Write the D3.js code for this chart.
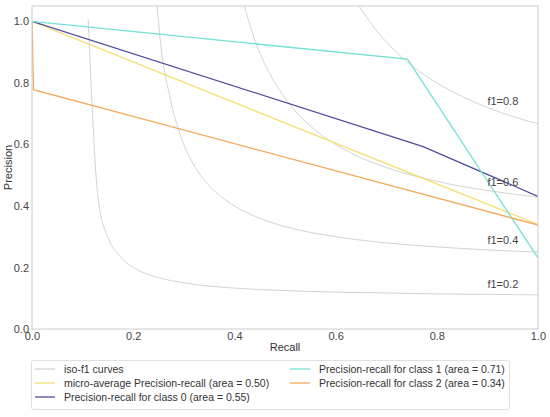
<!DOCTYPE html>
<html>
<head>
<meta charset="utf-8">
<script src="https://cdn.jsdelivr.net/npm/d3@7"></script>
<style>
  body { margin: 0; background: #fff; }
  svg { font-family: "Liberation Sans", Arial, sans-serif; }
  .tick text { fill: #444; font-size: 11px; }
</style>
</head>
<body>
<svg id="viz"></svg>
<script>
var width = 550;
var height = 417;

// tick labels
var xTicks = [0, 0.2, 0.4, 0.6, 0.8, 1.0];
var yTicks = [0, 0.2, 0.4, 0.6, 0.8, 1.0];

// iso-f1 curves, [recall, precision]
var isoValues = [0.2, 0.4, 0.6, 0.8];
var iso02 = [[0.111, 1.007], [0.131, 0.420], [0.151, 0.294], [0.172, 0.240], [0.192, 0.209],
    [0.212, 0.189], [0.25, 0.167], [0.30, 0.150], [0.40, 0.133], [0.50, 0.125], [0.60, 0.120],
    [0.70, 0.117], [0.80, 0.114], [0.90, 0.1125], [1.0, 0.111]];
var iso04 = [[0.232, 1.441], [0.252, 0.963], [0.273, 0.751], [0.293, 0.631], [0.313, 0.554],
    [0.333, 0.500], [0.353, 0.461], [0.374, 0.430], [0.414, 0.387], [0.45, 0.360], [0.50, 0.333],
    [0.55, 0.314], [0.60, 0.300], [0.70, 0.280], [0.80, 0.267], [0.90, 0.257], [1.0, 0.250]];
var iso06 = [[0.394, 1.259], [0.414, 1.089], [0.434, 0.970], [0.454, 0.883], [0.475, 0.815],
    [0.495, 0.762], [0.515, 0.718], [0.556, 0.652], [0.60, 0.600], [0.65, 0.557], [0.70, 0.525],
    [0.80, 0.480], [0.90, 0.450], [1.0, 0.429]];
var iso08 = [[0.616, 1.140], [0.636, 1.077], [0.657, 1.024], [0.677, 0.978], [0.697, 0.939],
    [0.717, 0.905], [0.75, 0.857], [0.80, 0.800], [0.85, 0.756], [0.90, 0.720], [0.95, 0.691],
    [1.0, 0.667]];
var isoCurves = [iso02, iso04, iso06, iso08];
var isoLabelY = [0.132, 0.276, 0.465, 0.728];

// precision-recall curves
var microPR = [[0, 1.0], [1.0, 0.340]];
var class0PR = [[0, 1.0], [0.773, 0.593], [1.0, 0.431]];
var class1PR = [[0, 1.0], [0.742, 0.877], [1.0, 0.231]];
var class2PR = [[0, 1.0], [0.003, 0.778], [1.0, 0.338]];

var seriesNames = ["iso-f1 curves",
    "micro-average Precision-recall (area = 0.50)",
    "Precision-recall for class 0 (area = 0.55)",
    "Precision-recall for class 1 (area = 0.71)",
    "Precision-recall for class 2 (area = 0.34)"];
var seriesColors = ["#d3d3d3", "#f6df72", "#4f4c9e", "#74e0d6", "#f6a95e"];

var svg = d3.select("#viz")
    .attr("width", width)
    .attr("height", height);

var x = d3.scaleLinear().domain([0, 1]).range([32, 538]);
var y = d3.scaleLinear().domain([0, 1.05]).range([329, 6]);

svg.append("clipPath").attr("id", "plotclip")
    .append("rect")
    .attr("x", x(0)).attr("y", y(1.05))
    .attr("width", x(1) - x(0)).attr("height", y(0) - y(1.05));

var line = d3.line()
    .x(function (d) { return x(d[0]); })
    .y(function (d) { return y(d[1]); });

var plot = svg.append("g").attr("clip-path", "url(#plotclip)");

// iso-f1 curves
isoCurves.forEach(function (c, i) {
    plot.append("path")
        .attr("d", line.curve(d3.curveMonotoneX)(c))
        .attr("fill", "none")
        .attr("stroke", seriesColors[0])
        .attr("stroke-width", 1);
    svg.append("text")
        .attr("x", x(0.9))
        .attr("y", y(isoLabelY[i]))
        .attr("font-size", 11)
        .attr("fill", "#444")
        .text("f1=" + isoValues[i].toFixed(1));
});
line.curve(d3.curveLinear);

var prCurves = [microPR, class0PR, class1PR, class2PR];
prCurves.forEach(function (c, i) {
    plot.append("path")
        .attr("d", line(c))
        .attr("fill", "none")
        .attr("stroke", seriesColors[i + 1])
        .attr("stroke-width", 1.3);
});

// frame
svg.append("rect")
    .attr("x", x(0)).attr("y", y(1.05))
    .attr("width", x(1) - x(0)).attr("height", y(0) - y(1.05))
    .attr("fill", "none")
    .attr("stroke", "#cccccc")
    .attr("stroke-width", 1);

// axes
var xAxis = svg.append("g")
    .attr("transform", "translate(0," + y(0) + ")")
    .call(d3.axisBottom(x).tickValues(xTicks).tickSize(0).tickPadding(3).tickFormat(d3.format(".1f")));
xAxis.select(".domain").remove();

var yAxis = svg.append("g")
    .attr("transform", "translate(" + x(0) + ",0)")
    .call(d3.axisLeft(y).tickValues(yTicks).tickSize(0).tickPadding(3).tickFormat(d3.format(".1f")));
yAxis.select(".domain").remove();

svg.append("text")
    .attr("x", (x(0) + x(1)) / 2)
    .attr("y", 351)
    .attr("text-anchor", "middle")
    .attr("font-size", 11)
    .attr("fill", "#333")
    .text("Recall");

svg.append("text")
    .attr("transform", "translate(12," + (y(0) + y(1.05)) / 2 + ") rotate(-90)")
    .attr("text-anchor", "middle")
    .attr("font-size", 11)
    .attr("fill", "#333")
    .text("Precision");

// legend
var legend = svg.append("g");
legend.append("rect")
    .attr("x", 31.5).attr("y", 360.5)
    .attr("width", 478).attr("height", 49)
    .attr("rx", 2)
    .attr("fill", "#fff")
    .attr("stroke", "#e0e0e0");

var colX = [35, 290];
var rowY = [369, 383, 397];
seriesNames.forEach(function (name, i) {
    var col = i < 3 ? 0 : 1;
    var row = i < 3 ? i : i - 3;
    var g = legend.append("g")
        .attr("transform", "translate(" + colX[col] + "," + rowY[row] + ")");
    g.append("line")
        .attr("x1", 0).attr("x2", 20)
        .attr("stroke", seriesColors[i])
        .attr("stroke-width", 1.3);
    g.append("text")
        .attr("x", 29)
        .attr("dy", "0.35em")
        .attr("font-size", 10.5)
        .attr("fill", "#333")
        .text(name);
});
</script>
</body>
</html>
